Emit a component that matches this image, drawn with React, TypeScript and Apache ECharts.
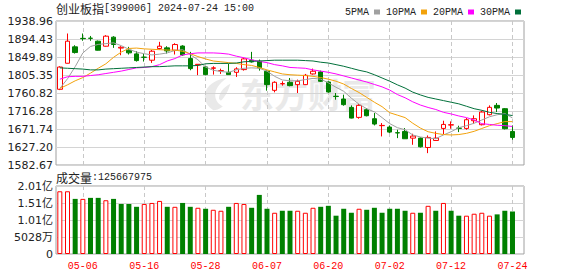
import React, { useEffect, useRef } from 'react';
import * as echarts from 'echarts';

// ---- data ----
const dates = [
  '04-26', '04-29', '04-30', '05-06', '05-07', '05-08', '05-09', '05-10', '05-13', '05-14',
  '05-15', '05-16', '05-17', '05-20', '05-21', '05-22', '05-23', '05-24', '05-27', '05-28',
  '05-29', '05-30', '05-31', '06-03', '06-04', '06-05', '06-06', '06-07', '06-11', '06-12',
  '06-13', '06-14', '06-17', '06-18', '06-19', '06-20', '06-21', '06-24', '06-25', '06-26',
  '06-27', '06-28', '07-01', '07-02', '07-03', '07-04', '07-05', '07-08', '07-09', '07-10',
  '07-11', '07-12', '07-15', '07-16', '07-17', '07-18', '07-19', '07-22', '07-23', '07-24',
];

const opens = [
  1770, 1834.4, 1875, 1896, 1896.5, 1889, 1876.6, 1899, 1872, 1866.7,
  1857.6, 1849.5, 1841.9, 1870.8, 1872.5, 1866.7, 1877, 1846, 1830.5, 1825.3,
  1822, 1815.5, 1812, 1812, 1818.7, 1841.9, 1839.4, 1814.6, 1767.4, 1783.5,
  1787.3, 1781.5, 1781.5, 1808, 1813, 1788.1, 1752.8, 1746, 1725.3, 1700.5,
  1719.5, 1697.2, 1680, 1676.5, 1662.6, 1665.7, 1649.2, 1649.2, 1626, 1643.4,
  1673.2, 1681.5, 1674, 1673.2, 1692.2, 1682.3, 1707.1, 1730.2, 1722, 1665.7,
];
const closes = [
  1825, 1889, 1860.9, 1895.2, 1896, 1866.7, 1901.4, 1880.8, 1874, 1860.1,
  1841, 1849, 1864.2, 1876.6, 1865, 1880.7, 1855, 1821.2, 1831.8, 1806.3,
  1823, 1816.2, 1806.3, 1820.4, 1845.2, 1837.7, 1822.9, 1781.5, 1787.3, 1784.2,
  1779, 1789.8, 1804.7, 1814.6, 1789.8, 1763.3, 1752.2, 1731.9, 1698.8, 1730.2,
  1704.6, 1684, 1680.6, 1664.1, 1662, 1647.6, 1654.2, 1627.7, 1650.9, 1649.2,
  1683.1, 1682.3, 1673.4, 1694.7, 1697.2, 1713.7, 1725.3, 1723.6, 1672.4, 1650.9,
];
const lows = [
  1768, 1834, 1858.4, 1890, 1890, 1866, 1875.8, 1872.5, 1854.3, 1856,
  1838.6, 1838.6, 1835.3, 1868.3, 1858.4, 1856, 1853, 1817.1, 1805, 1804.7,
  1806.3, 1808, 1806, 1800.5, 1816.2, 1836.1, 1816.2, 1766.6, 1762.5, 1779,
  1777.4, 1760.8, 1781, 1806.3, 1788.1, 1761.7, 1744.3, 1729.4, 1698, 1697.2,
  1703, 1680.6, 1653.4, 1661.6, 1649.2, 1647.6, 1632.7, 1626, 1612, 1643.4,
  1659.1, 1672.4, 1664.1, 1669.9, 1684, 1680.6, 1705.4, 1713.7, 1670.7, 1645.1,
];
const highs = [
  1827, 1908, 1879, 1908, 1902, 1890.6, 1903.9, 1901.4, 1876.6, 1875,
  1864, 1857.6, 1867.5, 1887.4, 1876.6, 1884, 1879, 1862.6, 1832.5, 1827,
  1827, 1821, 1832.8, 1824.5, 1847.7, 1862.6, 1843.5, 1817, 1789.8, 1789.8,
  1798, 1794, 1808, 1821.2, 1816.2, 1789.8, 1760.8, 1756.7, 1730.2, 1733.5,
  1723.6, 1711.2, 1686.4, 1680.6, 1669.9, 1674, 1660, 1650.9, 1655.8, 1665.7,
  1692.2, 1690.6, 1679.8, 1698.8, 1705.4, 1717, 1730.2, 1736, 1723.6, 1680.6,
];

const ma5 = [
  1772, 1796, 1826, 1860, 1876, 1881, 1883, 1885, 1878, 1869,
  1862, 1858, 1855, 1857, 1860, 1866, 1868, 1856, 1843, 1825,
  1817, 1814, 1812, 1818, 1822, 1823, 1822, 1815, 1802, 1793,
  1791, 1791, 1794, 1797, 1795, 1786, 1775, 1765, 1748, 1733,
  1722, 1714, 1700, 1685, 1675, 1670, 1657, 1652, 1649, 1648,
  1657, 1665, 1675, 1680, 1686, 1694, 1702, 1707, 1710, 1699,
];
const ma10 = [
  1772, 1781, 1791, 1799, 1810, 1822, 1833, 1849, 1862, 1871,
  1872, 1870, 1869, 1868, 1867, 1867, 1864, 1858, 1851, 1845,
  1840, 1838, 1836, 1834, 1831, 1829, 1824, 1818, 1813, 1808,
  1806, 1805, 1804, 1802, 1799, 1795, 1790, 1783, 1772, 1762,
  1750, 1738, 1727, 1712, 1706, 1700, 1686, 1674, 1665, 1661,
  1658, 1657, 1658, 1661, 1666, 1673, 1680, 1685, 1690, 1690,
];
const ma20 = [
  1795, 1801, 1802, 1802, 1804, 1806, 1809, 1812, 1815, 1819,
  1823, 1824, 1826, 1831, 1840, 1846, 1855, 1858, 1860, 1860,
  1860, 1859, 1857, 1852, 1848, 1843, 1839, 1836, 1831, 1828,
  1824, 1823, 1822, 1818, 1815, 1812, 1808, 1803, 1798, 1793,
  1788, 1782, 1776, 1768, 1757, 1749, 1739, 1731, 1725, 1720,
  1713, 1709, 1704, 1700, 1694, 1685, 1683, 1681, 1680, 1678,
];
const ma30 = [
  1823, 1822, 1821, 1820, 1818, 1818, 1820, 1821, 1822, 1823,
  1824, 1825, 1826, 1826, 1827, 1828, 1828, 1828, 1829, 1833,
  1834, 1834, 1834, 1835, 1838, 1839, 1840, 1841, 1842, 1842,
  1842, 1842, 1841, 1840, 1837, 1835, 1831, 1827, 1822, 1817,
  1813, 1806, 1798, 1790, 1781, 1773, 1763, 1756, 1750, 1746,
  1742, 1738, 1734, 1728, 1722, 1718, 1713, 1710, 1708, 1705,
];

const volumes = [
  185500000, 185500000, 163000000, 163000000, 166000000, 166000000, 159000000, 163000000, 148000000, 148000000,
  139600000, 148000000, 151000000, 157000000, 139600000, 139600000, 151000000, 139600000, 136700000, 133800000,
  130800000, 127900000, 139600000, 151000000, 148000000, 136700000, 174800000, 133800000, 122000000, 127900000,
  127900000, 127900000, 122000000, 136700000, 139600000, 142500000, 113300000, 133800000, 122000000, 133800000,
  130800000, 136700000, 122000000, 133800000, 133800000, 127900000, 122000000, 122000000, 142500000, 127900000,
  151000000, 127900000, 113300000, 113300000, 119100000, 122000000, 113300000, 117200000, 127900000, 125667975,
];
// 1 = red (up) volume bar, 0 = green (down) volume bar
const volumeUp = [
  1, 1, 0, 1, 0, 0, 1, 0, 0, 0,
  0, 1, 1, 1, 0, 1, 0, 0, 1, 0,
  1, 1, 0, 1, 1, 0, 0, 0, 1, 0,
  0, 1, 1, 1, 0, 0, 0, 0, 0, 1,
  0, 0, 0, 0, 0, 0, 1, 0, 1, 0,
  1, 0, 0, 1, 1, 1, 1, 0, 0, 0,
];

const priceTickLabels = ['1582.67', '1627.20', '1671.74', '1716.28', '1760.82', '1805.35', '1849.89', '1894.43', '1938.96'];
const volumeTickLabels = ['0', '5028万', '1.01亿', '1.51亿', '2.01亿'];
const volumeMax = 201120000;
const maNames = ['5PMA', '10PMA', '20PMA', '30PMA'];
const maColors = ['#a0a0a0', '#f2a20c', '#ff00ff', '#00703a'];
const titleName = '创业板指';
const titleCode = '[399006] 2024-07-24 15:00';
const watermarkText = '东方财富';

const RED = '#ff0000';
const GREEN = '#008000';
const MONO = '"Liberation Mono", "DejaVu Sans Mono", monospace';
const CJK = '"Noto Sans CJK SC", sans-serif';
const SANS = '"DejaVu Sans", "Noto Sans CJK SC", sans-serif';

// faint leaf-like brand mark used in the watermark
const LOGO_D = 'M14 34 C4 28 2 16 10 8 C14 4 20 1 28 0 C20 6 16 12 16 18 C16 24 20 28 24 30 C20 33 17 34 14 34 Z M20 22 C20 16 24 10 32 6 C30 12 28 18 22 24 Z';
let logoRegistered = false;

export default function App() {
  const ref = useRef<HTMLDivElement>(null);

  useEffect(() => {
    document.body.style.margin = '0';
    if (!ref.current) return;
    if (!logoRegistered) {
      echarts.graphic.registerShape('emlogo', echarts.graphic.extendPath(LOGO_D, {}));
      logoRegistered = true;
    }
    const chart = echarts.init(ref.current, undefined, { renderer: 'svg' });

    const cats = [...dates, ''];
    const labelEvery = (i: number) => i < dates.length && (i - 3) % 8 === 0;
    const priceMin = parseFloat(priceTickLabels[0]);
    const priceMax = parseFloat(priceTickLabels[priceTickLabels.length - 1]);
    const priceStep = (priceMax - priceMin) / (priceTickLabels.length - 1);
    const nearestLabel = (labels: string[], values: number[]) => (v: number) => {
      let best = 0;
      for (let i = 1; i < values.length; i++) if (Math.abs(values[i] - v) < Math.abs(values[best] - v)) best = i;
      return labels[best];
    };
    const priceVals = priceTickLabels.map((s) => parseFloat(s));
    const volStep = volumeMax / (volumeTickLabels.length - 1);
    const volVals = volumeTickLabels.map((_, i) => i * volStep);

    const kData = opens.map((o, i) => [o, closes[i], lows[i], highs[i]]);
    const maData = [ma5, ma10, ma20, ma30];

    const dashed = { show: true, alignWithLabel: true, interval: labelEvery, lineStyle: { color: '#c8c8c8', type: [4, 3], width: 1 } };
    const axisText = { color: '#222', fontFamily: SANS, fontSize: 11, margin: 3 };

    chart.setOption({
      animation: false,
      grid: [
        { left: 56, top: 21, width: 468, height: 144, show: true, borderColor: '#a0a0a0', borderWidth: 1 },
        { left: 56, top: 186, width: 468, height: 68, show: true, borderColor: '#a0a0a0', borderWidth: 1 },
      ],
      legend: {
        data: maNames,
        left: 340,
        top: 2,
        icon: 'rect',
        itemWidth: 6,
        itemHeight: 5,
        itemGap: 6,
        align: 'right',
        selectedMode: false,
        textStyle: { color: '#222', fontFamily: MONO, fontSize: 10, padding: [0, 0, 0, 0] },
      },
      xAxis: [
        {
          type: 'category', gridIndex: 0, data: cats, boundaryGap: true,
          axisLine: { show: false }, axisTick: { show: false }, axisLabel: { show: false },
          splitLine: dashed,
        },
        {
          type: 'category', gridIndex: 1, data: cats, boundaryGap: true,
          axisLine: { show: false }, axisTick: { show: false },
          axisLabel: { show: true, interval: labelEvery, color: RED, fontFamily: MONO, fontSize: 10, margin: 7 },
          splitLine: dashed,
        },
      ],
      yAxis: [
        {
          type: 'value', gridIndex: 0, min: priceMin, max: priceMax, interval: priceStep, scale: true,
          axisLine: { show: false }, axisTick: { show: false },
          axisLabel: { ...axisText, formatter: nearestLabel(priceTickLabels, priceVals), showMinLabel: true, showMaxLabel: true },
          splitLine: { show: true, lineStyle: { color: '#d4d4d4', width: 1 } },
        },
        {
          type: 'value', gridIndex: 1, min: 0, max: volumeMax, interval: volStep,
          axisLine: { show: false }, axisTick: { show: false },
          axisLabel: { ...axisText, formatter: nearestLabel(volumeTickLabels, volVals) },
          splitLine: { show: true, lineStyle: { color: '#d4d4d4', width: 1 } },
        },
      ],
      graphic: [
        {
          type: 'text', left: 56, top: 2, z: 10,
          style: {
            text: `{c|${titleName}}{m|${titleCode}}`,
            rich: {
              c: { fontFamily: CJK, fontSize: 12, fill: '#222' },
              m: { fontFamily: MONO, fontSize: 10, fill: '#222' },
            },
          },
        },
        {
          type: 'text', left: 56, top: 171, z: 10,
          style: {
            text: `{c|成交量}{m|:${volumes[volumes.length - 1]}}`,
            rich: {
              c: { fontFamily: CJK, fontSize: 12, fill: '#222' },
              m: { fontFamily: MONO, fontSize: 10, fill: '#222' },
            },
          },
        },
        {
          type: 'emlogo', x: 200, y: 78, scaleX: 0.95, scaleY: 0.95, z: 0, silent: true,
          style: { fill: '#e9e9e9' },
        },
        {
          type: 'text', left: 240, top: 76, z: 0, silent: true,
          style: { text: watermarkText, fontFamily: CJK, fontSize: 34, fontWeight: 'bold', fill: '#e9e9e9' },
        },
      ],
      series: [
        {
          name: 'K', type: 'candlestick', xAxisIndex: 0, yAxisIndex: 0, data: kData, barWidth: 5,
          itemStyle: { color: '#ffffff', color0: GREEN, borderColor: RED, borderColor0: GREEN, borderWidth: 1 },
        },
        ...maNames.map((n, k) => ({
          name: n, type: 'line', xAxisIndex: 0, yAxisIndex: 0, data: maData[k],
          symbol: 'none', showSymbol: false, smooth: false,
          lineStyle: { width: 1, color: maColors[k] }, itemStyle: { color: maColors[k] },
        })),
        {
          name: '成交量', type: 'bar', xAxisIndex: 1, yAxisIndex: 1, barWidth: 5,
          data: volumes.map((v, i) => ({
            value: v,
            itemStyle: volumeUp[i]
              ? { color: '#ffffff', borderColor: RED, borderWidth: 1 }
              : { color: GREEN, borderColor: GREEN, borderWidth: 0 },
          })),
        },
      ],
    });

    return () => chart.dispose();
  }, []);

  return <div ref={ref} style={{ width: 578, height: 276 }} />;
}
